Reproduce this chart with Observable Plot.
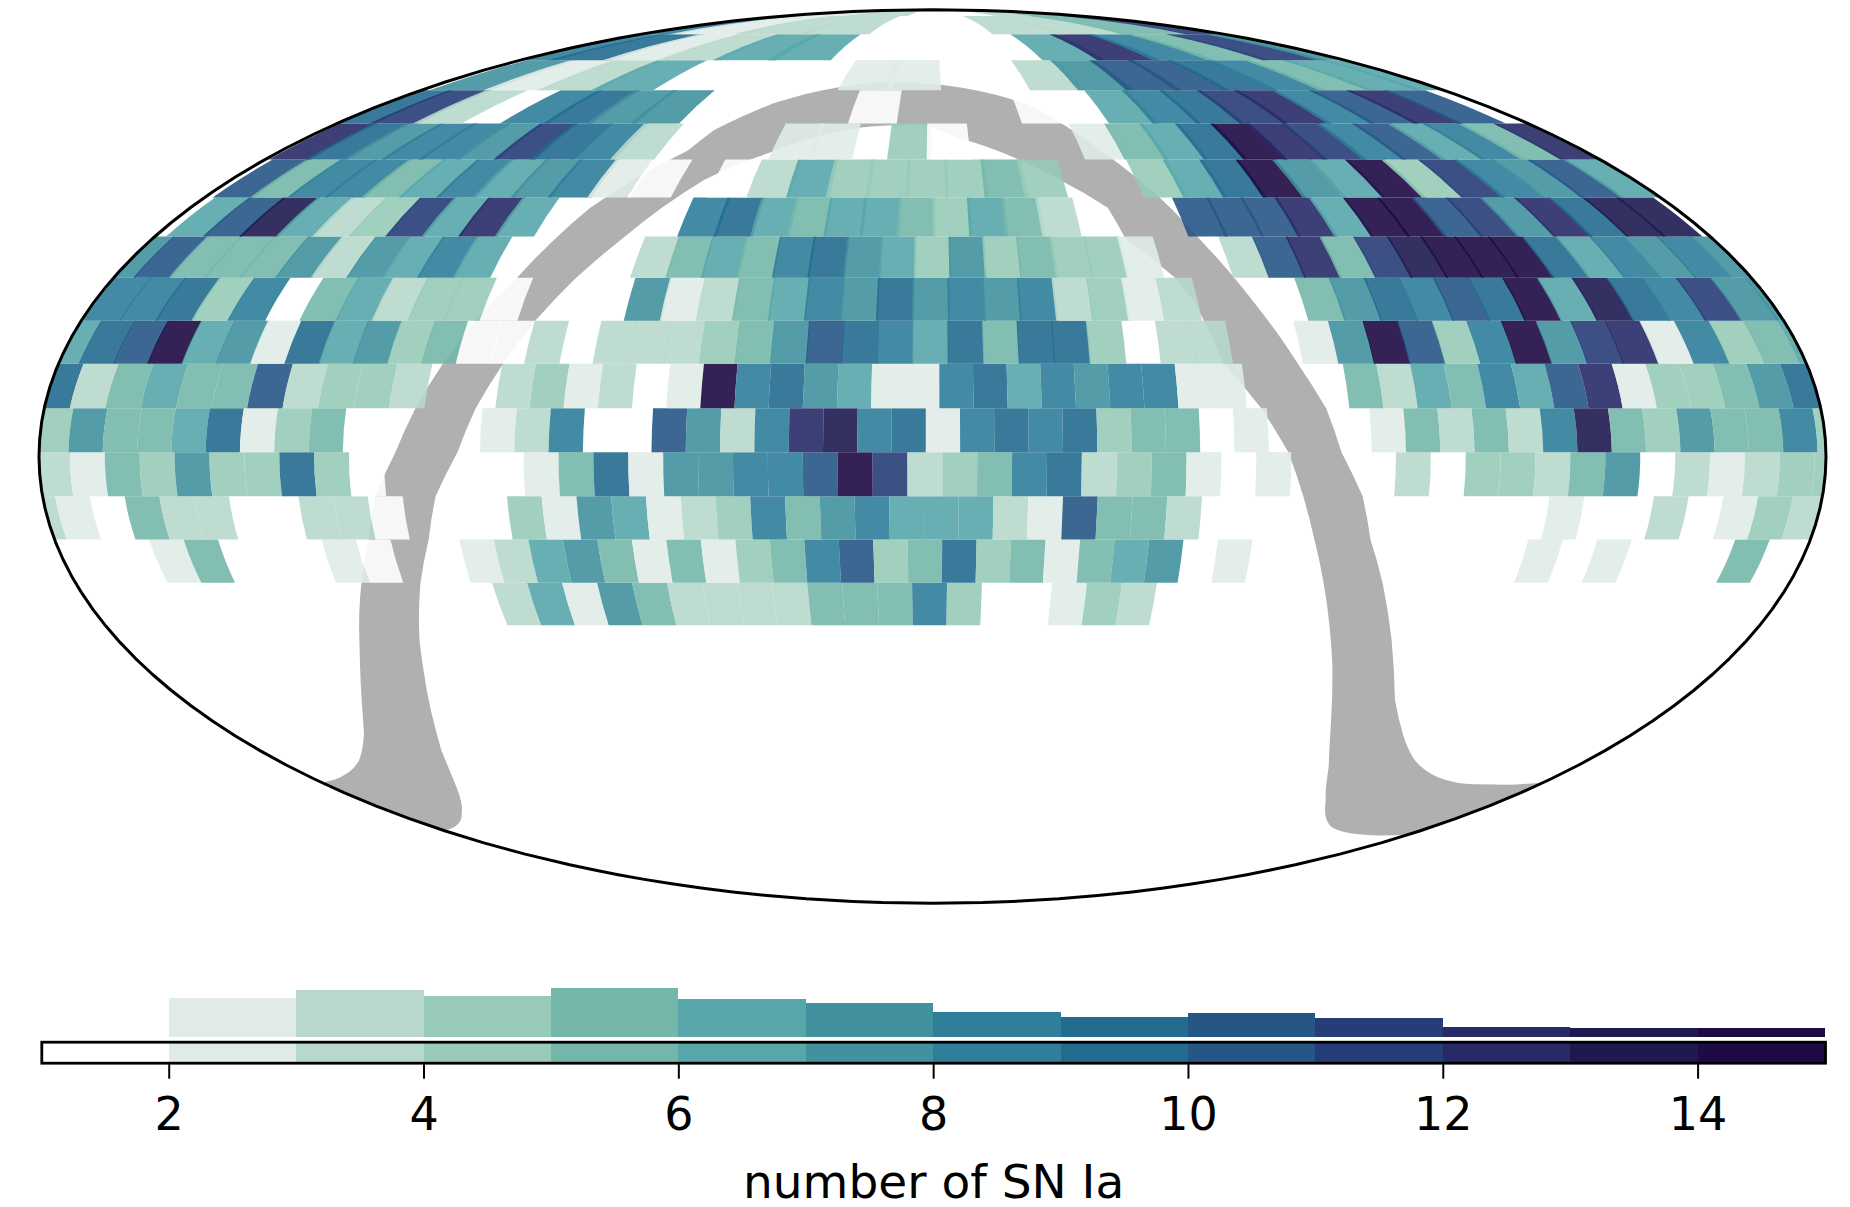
<!DOCTYPE html>
<html><head><meta charset="utf-8">
<script src="https://cdn.jsdelivr.net/npm/d3@7"></script>
<script src="https://cdn.jsdelivr.net/npm/@observablehq/plot@0.6"></script>
<style>html,body{margin:0;padding:0;background:#fff}svg{display:block}</style>
</head><body><div id="chart"></div>
<script>
// declination edges of the sky strips, south to north
const decEdges = [-28,-20.8,-13.6,-6.5,0.7,7.9,15.2,22.4,29.7,36.9,44,51.2,58.4,65.6,72.8,80,86.4,89.9];
// per strip: cell index knots and their longitudes
const knotK = [[0,1],[0,1],[0,1],[0,1],[0,1],[0,13,52],[0,1,16,51],[0,1],[0,1],[0,1],[0,9,38],[0,7,34],[0,1],[0,4,12,19,21],[0,1],[0,1],[0,1,2,3,4,5]];
const knotLon = [[-180.7,-173.35],[-181.84,-174.77],[-184.5,-177.47],[-180.8,-173.77],[-181,-174.09],[-182,-88.6,181.4],[-183,-175.8,-70,186],[-179.6,-171.98],[-183.5,-175.7],[-177.4,-168.95],[-178,-95.2,189.8],[-179,-108.4,180],[-183.35,-170.2],[-177,-101.1,34.3,152.8,187],[-192,-168],[-203,-163],[-180,-108,-30,76,120,180]];
const overlap = [0,0,0,0,0,0,.03,.05,.06,.08,.1,.12,.12,.15,.15,.1,0];
// number of SN Ia per cell (0 = no cell), one list per strip
const strip00 = [0,0,0,0,0,0,0,0,0,0,0,0,3,6,2,7,5,3,3,3,3,5,5,5,8,4,0,0,2,4,3];
const strip01 = [0,0,0,2,5,0,0,0,2,1,0,0,2,3,6,7,5,2,5,2,4,5,8,10,4,5,9,4,5,2,5,6,7,0,2,0,0,0,0,0,0,0,0,2,0,2,0,0,0,5];
const strip02 = [3,2,0,5,3,3,0,0,3,3,1,0,0,0,4,2,7,6,2,3,4,8,5,7,8,6,6,6,3,2,10,5,5,3,0,0,0,0,0,0,0,0,0,0,2,0,0,3,0,2,4,3];
const strip03 = [3,2,5,4,7,4,4,9,4,1,0,0,0,0,2,5,9,2,7,7,8,8,10,14,11,3,4,5,8,9,3,4,5,2,0,2,0,0,0,3,0,4,4,3,5,7,0,3,2,3,4,4];
const strip04 = [4,7,5,5,6,9,2,4,5,0,0,0,0,2,3,8,0,0,10,7,3,8,12,13,8,9,2,8,9,8,9,4,5,5,0,2,0,0,0,2,5,3,5,3,8,13,5,4,7,5,5,8,4];
const strip05 = [9,3,5,6,5,5,10,3,4,4,3,0,0,3,4,2,3,0,2,14,8,9,7,6,2,2,8,9,6,8,7,8,8,2,2,0,0,0,5,3,6,5,8,6,10,12,2,4,4,5,7,9];
const strip06 = [6,9,10,14,6,7,2,9,6,7,4,5,1,1,3,0,3,3,3,4,5,7,10,9,8,6,9,5,9,9,4,0,3,3,0,0,2,7,14,10,4,8,14,7,11,12,2,8,4,5,6];
const strip07 = [8,8,9,4,8,0,5,6,3,4,4,1,0,0,0,7,2,3,5,6,8,7,9,7,8,7,8,3,4,2,3,0,0,0,5,7,9,8,10,9,14,6,13,9,8,11,7,7];
const strip08 = [7,10,5,5,5,7,3,7,6,8,6,0,0,0,0,3,5,6,5,8,9,7,6,4,7,4,5,4,4,2,0,0,3,10,12,5,11,13,14,14,14,9,6,8,7,8,7];
const strip09 = [6,10,13,6,3,4,11,6,12,6,0,0,0,0,8,9,6,5,6,6,5,4,6,5,3,0,0,0,10,10,10,12,6,14,14,10,11,7,12,9,13,13];
const strip10 = [10,5,8,8,5,6,8,6,7,8,2,1,0,1,3,6,4,4,4,4,5,4,0,0,4,6,9,14,7,6,14,4,11,8,7,10,6];
const strip11 = [12,9,7,8,8,7,11,9,8,3,0,0,0,2,2,0,4,1,0,0,0,2,5,6,9,14,12,11,8,10,6,8,5,12];
const strip12 = [9,11,3,0,8,9,7,7,0,0,0,0,1,0,0,0,1,1,6,8,9,11,12,8,10,12,10];
const strip13 = [7,2,3,6,0,0,0,0,2,2,0,0,3,7,10,10,9,8,5,6,6];
const strip14 = [8,9,2,3,6,6,0,0,0,0,6,12,8,5,11,7];
const strip15 = [8,2,3,3,0,0,3,3,5,11];
const strip16 = [2,3,0,3,5];
const strips = [strip00,strip01,strip02,strip03,strip04,strip05,strip06,strip07,strip08,strip09,strip10,strip11,strip12,strip13,strip14,strip15,strip16];
// colour bar
const levels = [1,2,3,4,5,6,7,8,9,10,11,12,13,14];
const levelColors = ["#ffffff","#e0ebe7","#b8d8cc","#97cbb8","#74b7aa","#57a6aa","#41919e","#2f7e9a","#236c90","#265686","#273d78","#282a68","#1e1a50","#1e0a44"];
const histCounts = [0,62,75,66,79,61,54,40,32,39,30,16,15,15];
const barTicks = [2,4,6,8,10,12,14];
const barLabel = "number of SN Ia";
// galactic plane band outline, longitude / latitude
const bandOutline = [[-179.9,-57.0],[-157.8,-52.6],[-145.9,-47.3],[-130.8,-35.3],[-126.7,-30.6],[-120.0,-20.9],[-115.6,-13.6],
[-112.7,-6.5],[-108.2,0.7],[-104.8,7.8],[-100.9,15.1],[-96.7,22.4],[-91.4,29.6],[-87.0,36.6],
[-83.0,42.1],[-75.7,48.1],[-67.7,52.9],[-64.5,57.0],[-52.3,62.7],[-33.9,66.2],[-2.6,67.1],
[10.0,66.2],[31.9,62.2],[46.5,52.9],[56.3,43.8],[62.1,35.7],[68.8,25.8],[75.2,15.3],
[79.8,7.8],[82.4,0.7],[87.0,-6.5],[89.8,-13.6],[94.6,-20.9],[101.5,-30.6],[111.2,-41.2],
[132.8,-52.6],[154.7,-57.0],[166.8,-57.4],[179.9,-57.0],[179.9,-68.3],[162.1,-68.3],[144.6,-66.7],
[124.1,-60.7],[111.1,-53.9],[91.4,-35.3],[82.2,-20.9],[78.3,-13.6],[75.0,-6.5],[71.7,0.7],
[66.7,7.8],[59.9,15.3],[56.1,25.8],[53.4,29.6],[44.5,36.6],[42.5,42.1],[32.8,47.2],
[23.7,51.0],[8.0,55.3],[-2.7,58.0],[-13.5,58.0],[-21.4,57.6],[-44.5,52.6],[-58.7,47.2],
[-71.5,36.6],[-78.4,29.6],[-84.0,22.4],[-88.5,15.1],[-92.6,7.8],[-95.7,0.7],[-100.5,-6.5],
[-103.3,-13.6],[-107.6,-20.9],[-113.4,-30.6],[-116.4,-35.3],[-131.4,-50.6],[-157.6,-63.5],[-179.9,-67.4]];

function mollweideRaw(lambda, phi){
  let t = phi;
  const c = Math.PI*Math.sin(phi);
  for(let i=0;i<40;i++){
    const d=(2*t+Math.sin(2*t)-c)/(2+2*Math.cos(2*t)+1e-12);
    t-=d; if(Math.abs(d)<1e-9)break;
  }
  return [2*Math.SQRT2/Math.PI*lambda*Math.cos(t), Math.SQRT2*Math.sin(t)];
}
const mollweide = d3.geoProjection(mollweideRaw).scale(315.9).translate([932,456]).precision(0.2);

function along(lon0,lon1,lat){
  const n=Math.max(1,Math.ceil(Math.abs(lon1-lon0)/1.5)),p=[];
  for(let i=0;i<=n;i++)p.push([lon0+(lon1-lon0)*i/n,lat]);
  return p;
}
const clampLon=v=>Math.max(-179.95,Math.min(179.95,v));
const cells=[];
strips.forEach((vals,r)=>{
  const lon=d3.scaleLinear().domain(knotK[r]).range(knotLon[r]);
  const s=decEdges[r],n=decEdges[r+1];
  vals.forEach((v,k)=>{
    if(!v)return;
    const w0=lon(k),e0=lon(k+1);
    const w=clampLon(w0),e=clampLon(e0+overlap[r]*(e0-w0));
    if(e-w<.01)return;
    const ring=[...along(w,e,n),...along(e,w,s)];
    ring.push(ring[0]);
    cells.push({type:"Feature",properties:{v},geometry:{type:"Polygon",coordinates:[ring]}});
  });
});
const bandFeature={type:"Feature",geometry:{type:"Polygon",coordinates:[[...bandOutline,bandOutline[0]]]}};
const colorScale={type:"ordinal",domain:levels,range:levelColors};
const map=Plot.plot({
  width:1850,height:950,margin:0,projection:mollweide,
  color:colorScale,
  marks:[
    Plot.geo([bandFeature],{fill:"#b0b0b0",stroke:"none"}),
    Plot.geo(cells,{fill:d=>d.properties.v,fillOpacity:.9,stroke:"none"}),
    Plot.sphere({stroke:"#000",strokeWidth:3})
  ]
});
const hist=Plot.plot({
  width:1850,height:87,marginLeft:41.3,marginRight:25,marginTop:37.7,marginBottom:0,
  x:{domain:[1,15],axis:null},y:{domain:[0,79],axis:null},
  color:colorScale,
  marks:[Plot.rect(levels.map((v,i)=>({lo:v,hi:v+1,n:histCounts[i],v})).filter(d=>d.n>0),{x1:"lo",x2:"hi",y1:0,y2:"n",fill:"v",shapeRendering:"crispEdges"})]
});
const bar=Plot.plot({
  width:1850,height:170,marginLeft:41.3,marginRight:25,marginTop:4.7,marginBottom:144.3,
  x:{domain:[1,15]},
  color:colorScale,
  style:{fontFamily:"'DejaVu Sans'",color:"#000",background:"transparent",overflow:"visible"},
  marks:[
    Plot.barX(levels,{x1:d=>d,x2:d=>d+1,fill:d=>d,shapeRendering:"crispEdges"}),
    Plot.frame({stroke:"#000",strokeWidth:2.8}),
    Plot.axisX({ticks:barTicks,tickSize:16,tickPadding:18,fontSize:46,strokeWidth:2,label:null,tickFormat:d=>String(d)}),
    Plot.text([barLabel],{frameAnchor:"bottom",dy:135,fontSize:47,text:d=>d,fill:"#000"})
  ]
});
document.getElementById("chart").append(map,hist,bar);
</script></body></html>
